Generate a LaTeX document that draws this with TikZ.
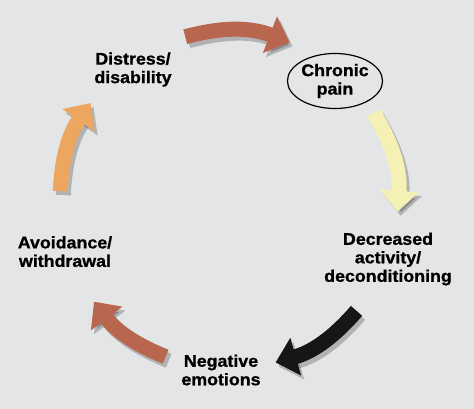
\documentclass[tikz,border=0pt]{standalone}
\usepackage{fontspec}
\setmainfont{Liberation Sans Bold}[FakeStretch=1.06, FakeBold=1]
\usetikzlibrary{arrows.meta,shapes.geometric}
\definecolor{bggray}{RGB}{228,229,231}
\definecolor{arrowbrown}{RGB}{184,102,78}
\definecolor{arrowyellow}{RGB}{245,241,180}
\definecolor{arroworange}{RGB}{237,166,96}
\definecolor{arrowblack}{RGB}{22,22,22}

\begin{document}
\begin{tikzpicture}[
  x=1pt, y=1pt,
  stage/.style={align=center, inner sep=0pt, font=\fontsize{16.8}{18.5}\selectfont},
  painnode/.style={stage, ellipse, draw, line width=1.2pt, minimum width=94pt, minimum height=55pt},
  cyc/.style={line width=15pt, -{Triangle[width=38pt,length=21pt]}},
  cycshadow/.style={cyc, draw=black, opacity=0.22},
]
  \useasboundingbox (-229,-209) rectangle (245,200);
  \fill[bggray] (-229,-209) rectangle (245,200);

  % stages of the cycle
  \node[stage] (dist) at (-96,130.5) {Distress/\\disability};
  \node[painnode] (pain) at (106,119) {Chronic\\pain};
  \node[stage] (decr) at (159,-59) {Decreased\\activity/\\deconditioning};
  \node[stage] (neg) at (-8,-170) {Negative\\emotions};
  \node[stage] (avoid) at (-164,-51.6) {Avoidance/\\withdrawal};

  % curved arrows on a circle round the middle
  \foreach \s/\e/\c [count=\i] in {105/69/arrowbrown, 31/-4/arrowyellow,
      -41/-74/arrowblack, -112/-143/arrowbrown, 177/145/arroworange} {
    \pgfmathsetmacro{\b}{(\s-\e)/2}
    \coordinate (s\i) at (\s:169);
    \coordinate (e\i) at (\e:169);
    \draw[cycshadow] ([shift={(3,-4)}]s\i) to[bend left=\b] ([shift={(3,-4)}]e\i);
    \draw[cyc, draw=\c, fill=\c] (s\i) to[bend left=\b] (e\i);
  }
\end{tikzpicture}
\end{document}
